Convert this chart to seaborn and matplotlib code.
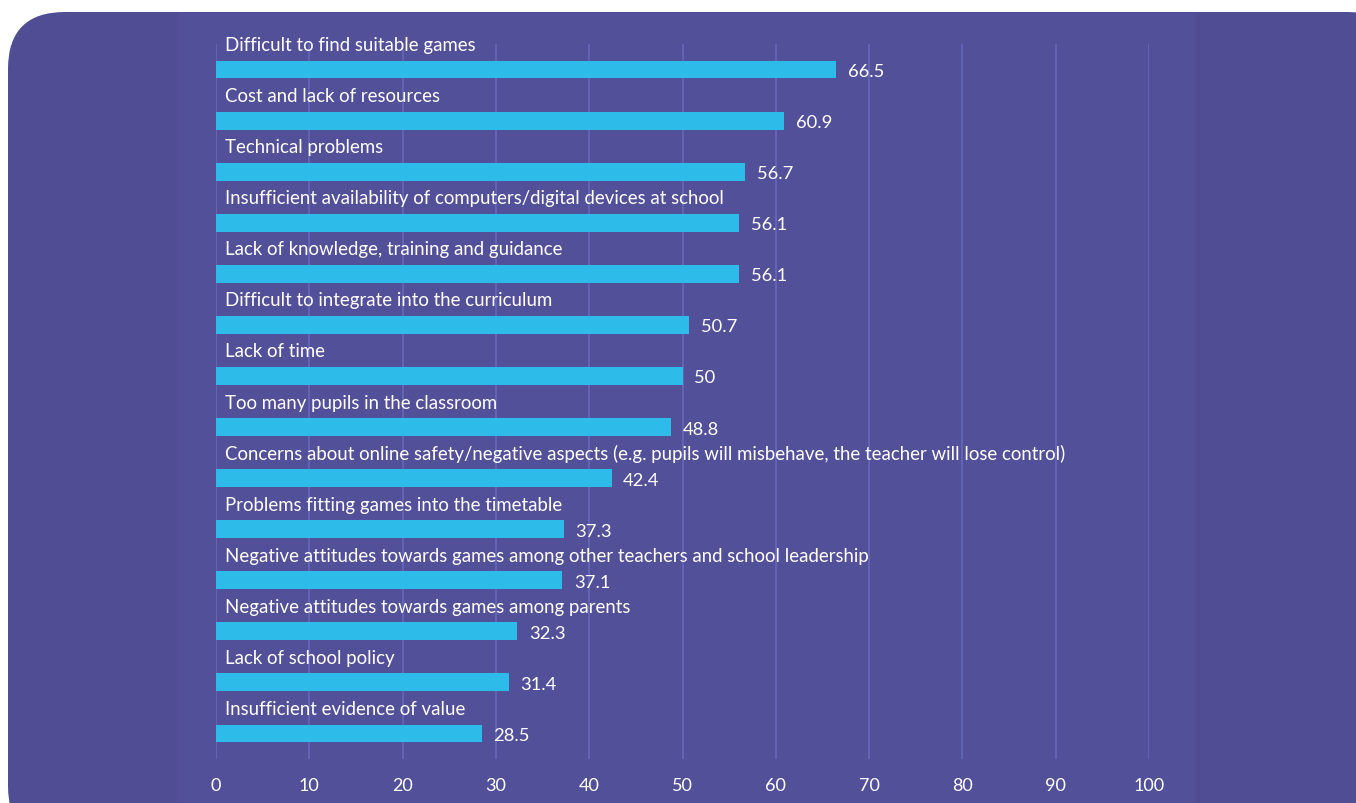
import matplotlib
matplotlib.use("Agg")
import matplotlib.pyplot as plt
from matplotlib.patches import FancyBboxPatch, Rectangle
import seaborn as sns
import pandas as pd

categories = [
    "Difficult to find suitable games",
    "Cost and lack of resources",
    "Technical problems",
    "Insufficient availability of computers/digital devices at school",
    "Lack of knowledge, training and guidance",
    "Difficult to integrate into the curriculum",
    "Lack of time",
    "Too many pupils in the classroom",
    "Concerns about online safety/negative aspects (e.g. pupils will misbehave, the teacher will lose control)",
    "Problems fitting games into the timetable",
    "Negative attitudes towards games among other teachers and school leadership",
    "Negative attitudes towards games among parents",
    "Lack of school policy",
    "Insufficient evidence of value",
]
values = [66.5, 60.9, 56.7, 56.1, 56.1, 50.7, 50, 48.8, 42.4, 37.3, 37.1, 32.3, 31.4, 28.5]
value_labels = ["66.5", "60.9", "56.7", "56.1", "56.1", "50.7", "50", "48.8",
                "42.4", "37.3", "37.1", "32.3", "31.4", "28.5"]
x_ticks = [0, 10, 20, 30, 40, 50, 60, 70, 80, 90, 100]

BG = "#514D95"
PANEL = "#53509A"
BAR = "#2DBBE9"
GRID = "#6668BA"
TEXT = "#FFFFFF"

sns.set_theme(style="white")
plt.rcParams["font.family"] = ["Lato", "DejaVu Sans"]

W, H = 1356, 804
fig = plt.figure(figsize=(W / 100, H / 100), dpi=100, facecolor="white")

# rounded card behind the chart
card = FancyBboxPatch((8 / W, -40 / H), (W + 40) / W, (H - 13 + 40) / H,
                      boxstyle="round,pad=0,rounding_size=0.042",
                      transform=fig.transFigure, facecolor=BG, edgecolor="none",
                      mutation_aspect=W / H, zorder=-2)
fig.patches.append(card)
fig.patches.append(Rectangle((178 / W, 0), (1195 - 178) / W, (H - 14) / H,
                             transform=fig.transFigure, facecolor=PANEL,
                             edgecolor="none", zorder=-1))

left, right = 216 / W, 1149 / W
top, bottom = 1 - 45 / H, 1 - 760 / H
ax = fig.add_axes([left, bottom, right - left, top - bottom])
ax.set_facecolor("none")

df = pd.DataFrame({"category": categories, "value": values})
sns.barplot(data=df, x="value", y="category", orient="h", color=BAR,
            width=0.35, saturation=1, linewidth=0, ax=ax, zorder=2)

ax.set_xlim(0, 100)
ax.set_ylim(13.5, -0.5)
ax.set_xticks(x_ticks)
ax.set_xticklabels([str(t) for t in x_ticks])
ax.set_yticks([])
ax.set_xlabel("")
ax.set_ylabel("")
ax.xaxis.grid(True, color=GRID, linewidth=1.2)
ax.set_axisbelow(True)
for s in ax.spines.values():
    s.set_visible(False)
ax.tick_params(axis="x", colors=TEXT, labelsize=13, length=0, pad=13)
for lbl in ax.get_xticklabels():
    lbl.set_color(TEXT)

for i, (cat, v, lab) in enumerate(zip(categories, values, value_labels)):
    ax.text(1.0, i - 0.49, cat, color=TEXT, fontsize=13.4, va="center",
            ha="left", zorder=4)
    ax.text(v + 1.25, i + 0.03, lab, color=TEXT, fontsize=13.2, va="center",
            ha="left", zorder=4)

fig.savefig("out.png", dpi=100, facecolor="white")
